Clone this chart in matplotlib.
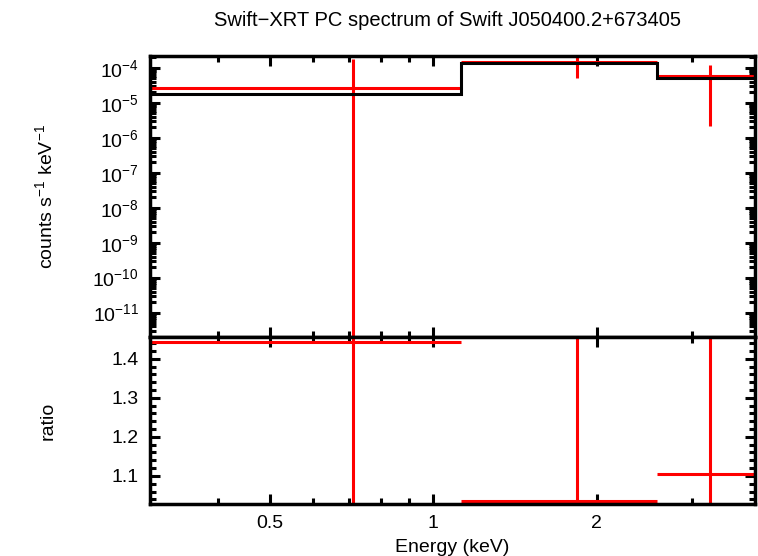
import numpy as np
import matplotlib
matplotlib.use("Agg")
import matplotlib.pyplot as plt
from matplotlib.ticker import FixedLocator, NullFormatter, LogLocator

plt.rcParams['font.family'] = ['Liberation Sans', 'DejaVu Sans']
plt.rcParams['mathtext.fontset'] = 'custom'
plt.rcParams['mathtext.rm'] = 'Liberation Sans'
plt.rcParams['mathtext.it'] = 'Liberation Sans'
plt.rcParams['font.size'] = 14

# spectrum bins (keV)
bin_lo = np.array([0.3, 1.125, 2.58])
bin_hi = np.array([1.125, 2.58, 3.9])
energy = np.array([0.71, 1.84, 3.24])

# data (counts/s/keV) with lower / upper error bounds
rate = np.array([2.6e-5, 1.45e-4, 5.75e-5])
rate_lo = np.array([-1.3e-4, 5.2e-5, 2.2e-6])
rate_hi = np.array([1.8e-4, 4.0e-4, 1.2e-4])

# folded model
model = np.array([1.8e-5, 1.4e-4, 5.2e-5])

ratio = rate / model
ratio_lo = rate_lo / model
ratio_hi = rate_hi / model

edges = np.append(bin_lo, bin_hi[-1])
xerr = [energy - bin_lo, bin_hi - energy]

fig = plt.figure(figsize=(7.58, 5.56), dpi=100)
left, right = 150 / 758, 755 / 758
ax1 = fig.add_axes([left, 1 - 337 / 556, right - left, (337 - 56) / 556])
ax2 = fig.add_axes([left, 1 - 504 / 556, right - left, (504 - 337) / 556], sharex=ax1)

red = '#ff0000'
ax1.errorbar(energy, rate, xerr=xerr, yerr=[rate - rate_lo, rate_hi - rate],
             fmt='none', ecolor=red, elinewidth=2.2, capsize=0, zorder=2)
ax1.stairs(model, edges, color='black', linewidth=2.2, baseline=None, zorder=3)
ax1.set_yscale('log')
ax1.set_ylim(2.0e-12, 2.2e-4)
ax1.set_ylabel('counts s$^{-1}$ keV$^{-1}$')
ax1.yaxis.set_label_coords(-0.155, 0.5)
ax1.yaxis.set_major_locator(FixedLocator(10.0 ** np.arange(-11, -3)))
ax1.yaxis.set_minor_locator(LogLocator(base=10, subs=np.arange(2, 10), numticks=20))
ax1.yaxis.set_minor_formatter(NullFormatter())

ax2.errorbar(energy, ratio, xerr=xerr, yerr=[ratio - ratio_lo, ratio_hi - ratio],
             fmt='none', ecolor=red, elinewidth=2.2, capsize=0, zorder=2)
ax2.set_ylim(1.028, 1.456)
ax2.set_ylabel('ratio')
ax2.yaxis.set_label_coords(-0.155, 0.5)
ax2.yaxis.set_major_locator(FixedLocator([1.1, 1.2, 1.3, 1.4]))
ax2.yaxis.set_minor_locator(FixedLocator(np.arange(1.04, 1.455, 0.02)))
ax2.set_yticklabels(['1.1', '1.2', '1.3', '1.4'])
ax2.set_xlabel('Energy (keV)', labelpad=5)

ax2.set_xscale('log')
ax2.set_xlim(0.3, 3.92)
ax2.xaxis.set_major_locator(FixedLocator([0.5, 1, 2]))
ax2.xaxis.set_minor_locator(FixedLocator([0.4, 0.6, 0.7, 0.8, 0.9, 3]))
ax2.xaxis.set_minor_formatter(NullFormatter())
ax2.set_xticklabels(['0.5', '1', '2'])
plt.setp(ax1.get_xticklabels(), visible=False)

for ax in (ax1, ax2):
    for sp in ax.spines.values():
        sp.set_linewidth(2.5)
    ax.tick_params(which='both', direction='in', top=True, right=True, width=2.2)
    ax.tick_params(which='major', length=7, pad=8)
    ax.tick_params(which='minor', length=4)

fig.suptitle('Swift\u2212XRT PC spectrum of Swift J050400.2+673405', x=0.59, y=0.98, fontsize=14.5)

fig.savefig('out.png', dpi=100)
